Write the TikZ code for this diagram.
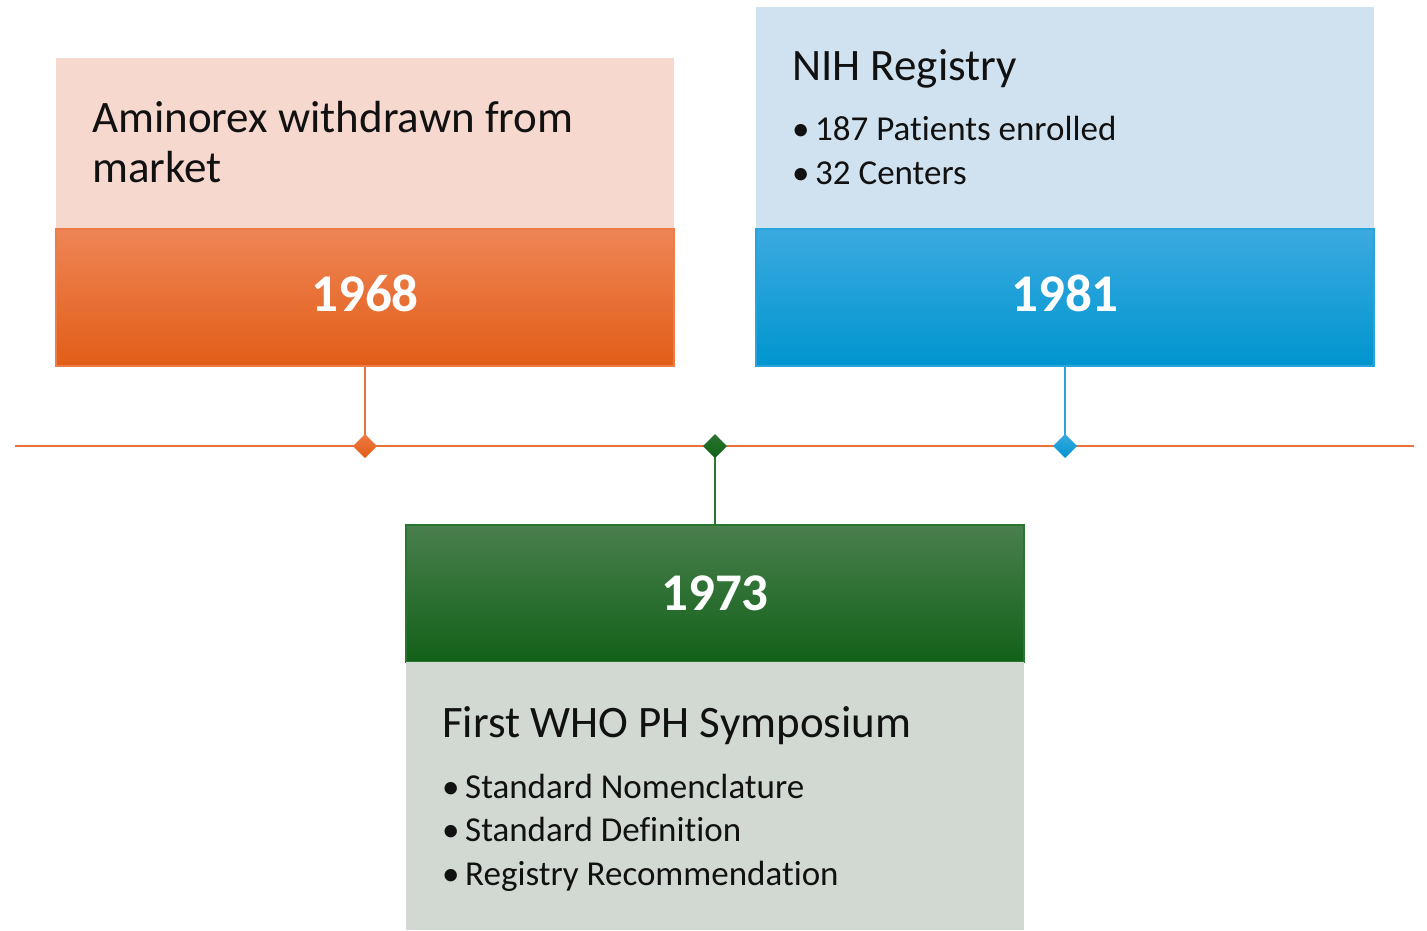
\documentclass[tikz,border=0pt]{standalone}
\usepackage{fontspec}
\setmainfont[Ligatures=NoCommon]{Carlito}
\usetikzlibrary{shapes.geometric,backgrounds}
\definecolor{orlight}{HTML}{F7D8CF}
\definecolor{ortop}{HTML}{EE8556}
\definecolor{ormid}{HTML}{F06A24}
\definecolor{orbot}{HTML}{E25D17}
\definecolor{orline}{HTML}{E8703A}
\definecolor{blight}{HTML}{D0E2F0}
\definecolor{btop}{HTML}{3BAAE0}
\definecolor{bmid}{HTML}{05A0DC}
\definecolor{bbot}{HTML}{0095CF}
\definecolor{bline}{HTML}{2BA3DC}
\definecolor{glight}{HTML}{D2D9D2}
\definecolor{gtop}{HTML}{4A7F4E}
\definecolor{gmid}{HTML}{177021}
\definecolor{gbot}{HTML}{126118}
\definecolor{gline}{HTML}{2A7530}
\definecolor{txt}{HTML}{111111}
\begin{document}
\begin{tikzpicture}[x=1pt,y=-1pt,
  panel/.style={rectangle, inner sep=0pt, outer sep=0pt, minimum width=618pt, anchor=north west},
  yearbox/.style={panel, minimum height=137pt, line width=1.5pt},
  yeartxt/.style={anchor=base, inner sep=0pt, text=white, font=\fontsize{53}{60}\selectfont\bfseries},
  ttl/.style={anchor=base west, inner sep=0pt, text=txt, font=\fontsize{45}{50}\selectfont},
  bul/.style={anchor=base west, inner sep=0pt, text=txt, font=\fontsize{35}{44}\selectfont},
  gem/.style={diamond, inner sep=0pt, outer sep=0pt, minimum width=24pt, minimum height=24pt},
  conn/.style={line width=2.4pt}
]
\useasboundingbox (0,0) rectangle (1427,930);

% timeline ends
\coordinate (tlA) at (15,446);
\coordinate (tlB) at (1414,446);

% 1968 box
\node[panel, fill=orlight, minimum height=171pt] (oTop) at (56,58) {};
\node[yearbox, top color=ortop, middle color=ormid, bottom color=orbot, draw=ortop!80!orbot] (oYear) at (56,229) {};
\node[yeartxt] (oY) at (365,311) {1968};
\node[ttl] (oT1) at (92,132) {Aminorex withdrawn from};
\node[ttl] (oT2) at (92,182) {market};

% 1981 box
\node[panel, fill=blight, minimum height=222pt] (bTop) at (756,7) {};
\node[yearbox, top color=btop, middle color=bmid, bottom color=bbot, draw=btop!70!bbot] (bYear) at (756,229) {};
\node[yeartxt] (bY) at (1065,311) {1981};
\node[ttl] (bT) at (792,80) {NIH Registry};
\node[bul] (bB1) at (792,140) {\makebox[23pt][l]{•}187 Patients enrolled};
\node[bul] (bB2) at (792,184) {\makebox[23pt][l]{•}32 Centers};

% 1973 box
\node[yearbox, top color=gtop, middle color=gmid, bottom color=gbot, draw=gline] (gYear) at (406,525) {};
\node[panel, fill=glight, minimum height=268pt] (gBot) at (406,662) {};
\node[yeartxt] (gY) at (715,610) {1973};
\node[ttl] (gT) at (442,737) {First WHO PH Symposium};
\node[bul] (gB1) at (442,798) {\makebox[23pt][l]{•}Standard Nomenclature};
\node[bul] (gB2) at (442,841) {\makebox[23pt][l]{•}Standard Definition};
\node[bul] (gB3) at (442,885) {\makebox[23pt][l]{•}Registry Recommendation};

% diamonds
\node[gem, top color=ortop!60!ormid, bottom color=orbot] (oD) at (365,446) {};
\node[gem, top color=btop, bottom color=bbot] (bD) at (1065,446) {};
\node[gem, top color=gline, bottom color=gbot] (gD) at (715,446) {};

\begin{scope}[on background layer]
\draw[orline, line width=2.4pt] (tlA) -- (tlB);
\draw[conn, orline] (oYear.south -| oD) -- (oD.center);
\draw[conn, bline] (bYear.south -| bD) -- (bD.center);
\draw[conn, gline] (gD.center) -- (gYear.north -| gD);
\end{scope}
\end{tikzpicture}
\end{document}
